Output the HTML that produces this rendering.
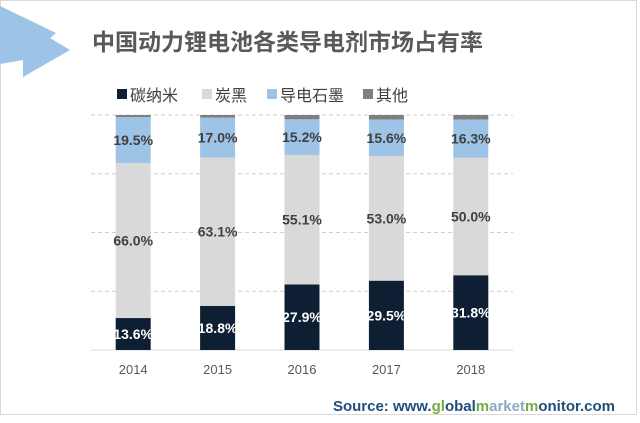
<!DOCTYPE html>
<html><head><meta charset="utf-8"><style>
body{margin:0;background:#fff;font-family:"Liberation Sans","Noto Sans CJK SC",sans-serif}
#wrap{position:relative;width:640px;height:423px;overflow:hidden}
</style></head><body>
<div id="wrap">
<svg id="chart" width="640" height="423">
<rect x="0.5" y="0.5" width="636" height="414" fill="#fff" stroke="#d9d9d9"/>
<polygon points="0,6 56,33 50,38 70,50 23,77 23,60 0,64" fill="#9dc3e6"/>
<text x="92" y="50" font-size="23" font-weight="bold" fill="#595959">中国动力锂电池各类导电剂市场占有率</text>
<g id="legend"></g>
<g id="grid"></g><g id="bars"></g><g id="xlabels"></g>
<text x="615" y="411" text-anchor="end" font-size="15" font-weight="bold" fill="#1f4e79">Source: www.<tspan fill="#70ad47">gl</tspan>obal<tspan fill="#70ad47">m</tspan><tspan fill="#8ea9c1">arket</tspan><tspan fill="#70ad47">m</tspan>onitor.com</text>
</svg>
</div>
<script>
const categories=["2014","2015","2016","2017","2018"];
const carbonNano=[13.6,18.8,27.9,29.5,31.8];
const carbonBlack=[66.0,63.1,55.1,53.0,50.0];
const graphite=[19.5,17.0,15.2,15.6,16.3];
const other=[0.9,1.1,1.8,1.9,1.9];
const gridTicks=[0,25,50,75,100];
const seriesNames=["碳纳米","炭黑","导电石墨","其他"];
const NS="http://www.w3.org/2000/svg";
const svg=document.getElementById('chart');
const colors=["#0f1f33","#d9d9d9","#9dc3e6","#7f7f7f"];
const plotL=91,plotR=513,plotT=115,plotB=350;
const y=v=>plotB-(plotB-plotT)*v/100;
const step=(plotR-plotL)/categories.length;
const xc=i=>plotL+step*(i+0.5);
const bw=35;
function mk(tag,attrs,parent){const e=document.createElementNS(NS,tag);for(const k in attrs)e.setAttribute(k,attrs[k]);document.getElementById(parent)?document.getElementById(parent).appendChild(e):svg.appendChild(e);return e;}
gridTicks.forEach(t=>{const l=mk('line',{x1:plotL,x2:plotR,y1:y(t),y2:y(t),stroke:t===0?'#d9d9d9':'#d0d0d0','stroke-dasharray':t===0?'':'4,3'},'grid');

});
const series=[carbonNano,carbonBlack,graphite,other];
categories.forEach((c,i)=>{let cum=0;
series.forEach((s,k)=>{const v=s[i];const r=mk('rect',{x:xc(i)-bw/2,y:y(cum+v),width:bw,height:y(cum)-y(cum+v),fill:colors[k]},'bars');


if(k<3){const t=mk('text',{x:xc(i),y:y(cum+v/2)+5,'text-anchor':'middle','font-size':14,'font-weight':'bold',fill:k===0?'#fff':'#404040'},'bars');t.textContent=v.toFixed(1)+'%';

}
cum+=v;});
const xl=mk('text',{x:xc(i),y:plotB+24,'text-anchor':'middle','font-size':13,fill:'#595959'},'xlabels');xl.textContent=c;


});
const lx=[117,202,267,363];
seriesNames.forEach((n,k)=>{const g=mk('g',{},'legend');


const r=document.createElementNS(NS,'rect');r.setAttribute('x',lx[k]);r.setAttribute('y',89);r.setAttribute('width',10);r.setAttribute('height',10);r.setAttribute('fill',colors[k]);g.appendChild(r);
const t=document.createElementNS(NS,'text');t.setAttribute('x',lx[k]+13);t.setAttribute('y',101);t.setAttribute('font-size',16);t.setAttribute('fill','#404040');t.textContent=n;g.appendChild(t);});
</script>
</body></html>
